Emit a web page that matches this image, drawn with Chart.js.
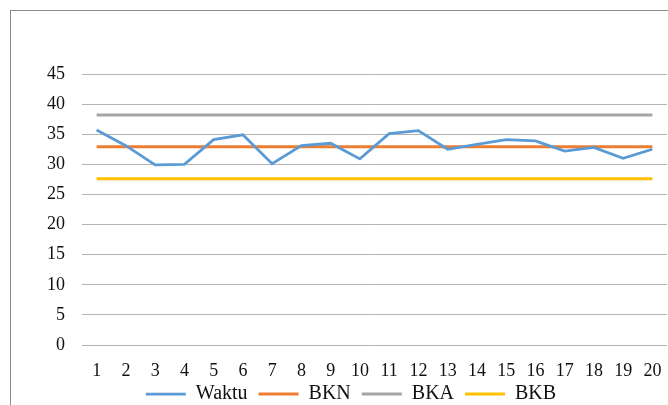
<!DOCTYPE html>
<html>
<head>
<meta charset="utf-8">
<script src="https://cdn.jsdelivr.net/npm/chart.js@4"></script>
<style>
  html, body { margin: 0; padding: 0; background: #fff; overflow: hidden; width: 668px; height: 405px; }
  #frame { position: absolute; left: 10px; top: 10px; width: 680px; height: 420px; border: 1px solid #8c8c8c; box-sizing: border-box; }
  #chart { position: absolute; left: 0; top: 0; }
</style>
</head>
<body>
<div id="frame"><canvas id="chart" width="680" height="403"></canvas></div>
<script>
  // data
  const labels = ['1', '2', '3', '4', '5', '6', '7', '8', '9', '10', '11', '12', '13', '14', '15', '16', '17', '18', '19', '20'];
  const waktu = [35.7, 33.1, 29.9, 30.0, 34.1, 34.9, 30.1, 33.1, 33.5, 30.9, 35.1, 35.6, 32.5, 33.3, 34.1, 33.9, 32.2, 32.8, 31.0, 32.5];
  const bkn = [32.9, 32.9, 32.9, 32.9, 32.9, 32.9, 32.9, 32.9, 32.9, 32.9, 32.9, 32.9, 32.9, 32.9, 32.9, 32.9, 32.9, 32.9, 32.9, 32.9];
  const bka = [38.2, 38.2, 38.2, 38.2, 38.2, 38.2, 38.2, 38.2, 38.2, 38.2, 38.2, 38.2, 38.2, 38.2, 38.2, 38.2, 38.2, 38.2, 38.2, 38.2];
  const bkb = [27.6, 27.6, 27.6, 27.6, 27.6, 27.6, 27.6, 27.6, 27.6, 27.6, 27.6, 27.6, 27.6, 27.6, 27.6, 27.6, 27.6, 27.6, 27.6, 27.6];
  const yTicks = { min: 0, max: 45, step: 5 };

  const serif = '"Liberation Serif", "Times New Roman", serif';

  function series(label, data, color, width) {
    return {
      label: label, data: data,
      borderColor: color, backgroundColor: color,
      borderWidth: width, pointRadius: 0, tension: 0, fill: false
    };
  }

  // let the x labels spill below the thin x-axis box instead of being clipped
  const noLabelClip = {
    id: 'noLabelClip',
    afterLayout(chart) {
      chart.scales.x._computeLabelArea = function () { return undefined; };
    }
  };

  new Chart(document.getElementById('chart').getContext('2d'), {
    type: 'line',
    data: {
      labels: labels,
      datasets: [
        series('Waktu', waktu, '#5b9bd5', 2.75),
        series('BKN', bkn, '#ed7d31', 3),
        series('BKA', bka, '#a5a5a5', 3),
        series('BKB', bkb, '#ffc000', 3)
      ]
    },
    plugins: [noLabelClip],
    options: {
      responsive: false,
      animation: false,
      devicePixelRatio: 1,
      layout: { padding: { top: 63, right: 24, left: 24, bottom: 0 } },
      plugins: {
        tooltip: { enabled: false },
        legend: {
          position: 'bottom',
          labels: {
            usePointStyle: true,
            pointStyle: 'line',
            pointStyleWidth: 40,
            padding: 11,
            color: '#111',
            font: { family: serif, size: 20 }
          }
        }
      },
      scales: {
        x: {
          offset: true,
          grid: { display: false },
          border: { display: false },
          ticks: { color: '#111', font: { family: serif, size: 18, lineHeight: 1 }, padding: 9, maxRotation: 0, autoSkip: false },
          afterFit: function (s) { s.height = 28; }
        },
        y: {
          min: yTicks.min, max: yTicks.max,
          grid: { color: '#b4b4b4', lineWidth: 1, drawTicks: false },
          border: { display: false },
          ticks: { stepSize: yTicks.step, color: '#111', font: { family: serif, size: 18 }, padding: 17 },
          afterFit: function (s) { s.width = 47; }
        }
      }
    }
  });
</script>
</body>
</html>
